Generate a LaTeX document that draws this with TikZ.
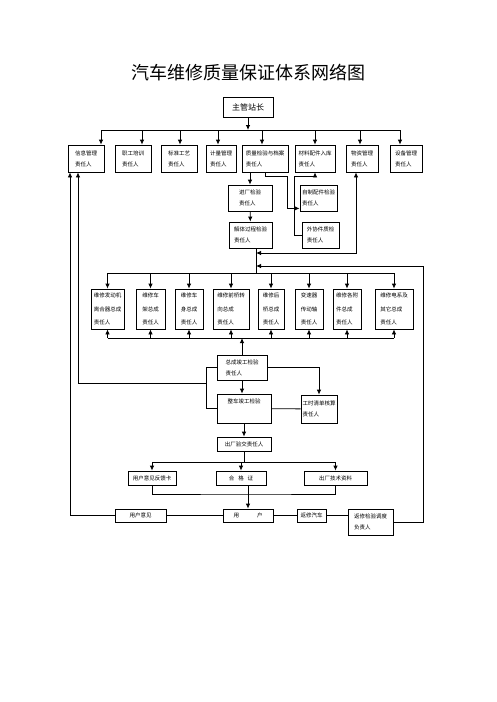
\documentclass[tikz,border=0pt]{standalone}
\usepackage{fontspec}
\setmainfont{Noto Sans CJK SC}
\usetikzlibrary{arrows.meta, positioning}

\begin{document}
\begin{tikzpicture}[
	x=1pt, y=-1pt,
	box/.style={
		draw,
		line width=0.8pt,
		inner sep=0pt,
		align=left,
		font=\fontsize{5.5}{11}\selectfont
	},
	rbox/.style={box, minimum height=40, font=\fontsize{5.5}{13.5}\selectfont},
	tbox/.style={box, minimum height=27},
	link/.style={line width=0.8pt},
	arrow/.style={-{Latex[length=5pt,width=4.5pt]}, line width=0.8pt},
	darrow/.style={{Latex[length=5pt,width=4.5pt]}-{Latex[length=5pt,width=4.5pt]}, line width=0.8pt}
]
	\useasboundingbox (0,0) rectangle (496,702);

	\node[font=\fontsize{18}{18}\selectfont] (title) at (248,73) {汽车维修质量保证体系网络图};
	\node[box, font=\fontsize{8}{8}\selectfont, minimum width=50, minimum height=20] (zg) at (248,107) {主管站长};

	% first level
	\node[tbox, minimum width=36] (xx) at (86,158.5) {信息管理\\责任人};
	\node[tbox, minimum width=36] (px) at (133,158.5) {职工培训\\责任人};
	\node[tbox, minimum width=36] (gy) at (179,158.5) {标准工艺\\责任人};
	\node[tbox, minimum width=30] (jl) at (221,158.5) {计量管理\\责任人};
	\node[tbox, minimum width=46] (zj) at (265,158.5) {质量检验与档案\\责任人};
	\node[tbox, minimum width=40] (cl) at (315,158.5) {材料配件入库\\责任人};
	\node[tbox, minimum width=32] (wz) at (362,158.5) {物资管理\\责任人};
	\node[tbox, minimum width=32] (sb) at (406,158.5) {设备管理\\责任人};

	% inspection
	\node[box, minimum width=44, minimum height=26] (jc) at (250,198) {进厂检验\\责任人};
	\node[box, minimum width=37, minimum height=26] (zz) at (318.5,198) {自制配件检验\\责任人};
	\node[box, minimum width=43, minimum height=26] (jt) at (250.5,235) {解体过程检验\\责任人};
	\node[box, minimum width=37, minimum height=26] (wx) at (320.5,235) {外协件质检\\责任人};

	% repair units
	\node[rbox, minimum width=33] (r1) at (107.5,309) {维修发动机\\离合器总成\\责任人};
	\node[rbox, minimum width=29] (r2) at (150.5,309) {维修车\\架总成\\责任人};
	\node[rbox, minimum width=28] (r3) at (189,309) {维修车\\身总成\\责任人};
	\node[rbox, minimum width=36] (r4) at (231,309) {维修前桥转\\向总成\\责任人};
	\node[rbox, minimum width=26] (r5) at (271,309) {维修后\\桥总成\\责任人};
	\node[rbox, minimum width=28] (r6) at (309,309) {变速器\\传动轴\\责任人};
	\node[rbox, minimum width=28] (r7) at (347,309) {维修各附\\件总成\\责任人};
	\node[rbox, minimum width=38] (r8) at (394,309) {维修电系及\\其它总成\\责任人};

	% final checks
	\node[box, minimum width=50, minimum height=25] (zc) at (242,367.5) {总成竣工检验\\责任人};
	\node[box, minimum width=54, minimum height=29] (zcjg) at (244,408.5) {整车竣工检验\\\strut};
	\node[box, minimum width=36, minimum height=28] (gs) at (319,409) {工时清单核算\\责任人};
	\node[box, minimum width=54, minimum height=14] (cc) at (244,444) {出厂验交责任人};

	\node[box, minimum width=48, minimum height=14] (fk) at (152,478) {用户意见反馈卡};
	\node[box, minimum width=50, minimum height=14] (hg) at (241,478) {合\hspace{4pt}格\hspace{4pt}证};
	\node[box, minimum width=63, minimum height=14] (js) at (335.5,478) {出厂技术资料};

	\node[box, minimum width=51, minimum height=13] (yj) at (140.5,515.5) {用户意见};
	\node[box, minimum width=50, minimum height=13] (yh) at (248,515.5) {用\hspace{18pt}户};
	\node[box, minimum width=29, minimum height=13] (fx) at (311.5,515.5) {返修汽车};
	\node[box, minimum width=45, minimum height=26] (fd) at (370.5,522) {返修检验调度\\负责人};

	\coordinate (topbus) at (248,130);
	\coordinate (rtop) at (256,273);
	\coordinate (rbot) at (243,338);
	\coordinate (j1) at (256,253);
	\coordinate (j2) at (256,266);
	\coordinate (lj) at (206,383);
	\coordinate (obus) at (244,462);
	\coordinate (lowbr) at (248,494);

	\draw[arrow] (zg) -- (zg.south |- topbus);
	\draw[link] ([xshift=15pt]xx.north |- topbus) -- ([xshift=-6pt]sb.north |- topbus);
	\foreach \n/\s in {xx/15,px/9,gy/1,jl/-3,zj/-3,cl/0,wz/-2,sb/-6}
		\draw[arrow] ([xshift=\s pt]\n.north |- topbus) -- ([xshift=\s pt]\n.north);

	\draw[arrow] (jc.north |- zj.south) -- (jc.north);
	\draw[arrow] (jc) -- (jt);
	\draw[arrow] (zj.south) -- ++(0,3.5) -| ([xshift=-12pt,yshift=3pt]zz.south west) -- ([yshift=3pt]zz.south west);
	\draw[arrow] (wx.west) -- ++(-7,0) |- ([yshift=-4pt]cl.south) -- (cl.south);

	\draw[link] (rtop |- jt.south) -- (rtop);
	\draw[link] (r1.north |- rtop) -- (r8.north |- rtop);
	\draw[link] (r1.south |- rbot) -- (r8.south |- rbot);
	\foreach \n in {r1,r2,r3,r4,r5,r6,r7,r8} {
		\draw[arrow] (\n.north |- rtop) -- (\n.north);
		\draw[arrow] (\n.south |- rbot) -- (\n.south);
	}
	\draw[darrow] ([xshift=-6pt]wz.south) |- (j1);
	\draw[arrow] (fd.east) -- ++(30,0) |- (j2);

	\draw[arrow] (zc.north) -- (zc.north |- rbot);
	\draw[arrow] (zc.south) -- (zc.south |- zcjg.north);
	\draw[arrow] (zc.east) -| (gs.north);
	\draw[link] (zcjg) -- (gs);
	\draw[link] (zc.west) -- (zc.west -| lj) |- (zcjg.west);
	\draw[arrow] (lj) -| ([xshift=-8pt]xx.south);
	\draw[arrow] (yj.west) -| ([xshift=-16pt]xx.south);

	\draw[arrow] (zcjg) -- (cc);
	\draw[link] (cc) -- (obus);
	\draw[link] (fk.north |- obus) -- (js.north |- obus);
	\foreach \n in {fk,hg,js}
		\draw[arrow] (\n.north |- obus) -- (\n.north);
	\draw[link] (fk.south) |- (lowbr) -| (js.south);
	\draw[arrow] (yh.north |- hg.south) -- (yh.north);

	\draw[link] (yj) -- (yh);
	\draw[link] (yh) -- (fx);
	\draw[link] (fx.east) -- (fx.east -| fd.west);

\end{tikzpicture}
\end{document}
